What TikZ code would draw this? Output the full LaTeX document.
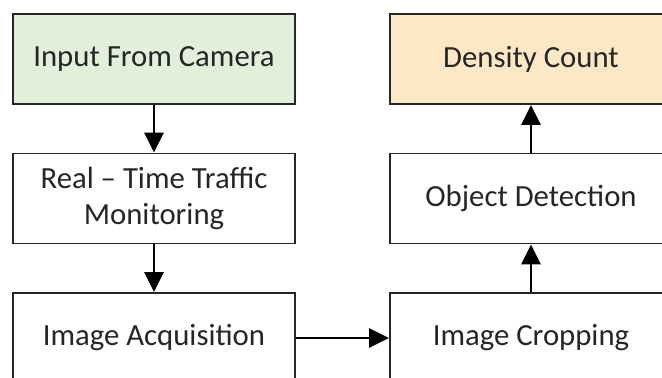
\documentclass[tikz,border=0pt]{standalone}
\usepackage{fontspec}
\setmainfont{Carlito}
\usetikzlibrary{arrows.meta,positioning}
\definecolor{camGreen}{HTML}{E2EFDA}
\definecolor{cntGold}{HTML}{FCE8C4}
\definecolor{edgeGrey}{HTML}{262626}

\begin{document}
\begin{tikzpicture}[
  x=0.02cm, y=-0.02cm,
  >={Triangle[length=0.40cm, width=0.38cm]},
  font=\fontsize{17.5pt}{21pt}\selectfont,
  stage/.style ={draw=edgeGrey, fill=white, align=center, text=edgeGrey,
                 minimum width=5.64cm, minimum height=1.80cm,
                 inner sep=2pt, line width=1.1pt},
  flow/.style  ={->, draw=black, line width=1.6pt},
]

% ---- the frame, in pixel units of the page -----------------------------------------
% two columns of three rows; the right column runs past the page edge on purpose
\useasboundingbox (0,0) rectangle (662,378);
\clip (0,0) rectangle (662,378);
\pgfmathsetmacro{\xl}{154}
\pgfmathsetmacro{\xr}{531}
\pgfmathsetmacro{\ya}{59}
\pgfmathsetmacro{\yb}{198.5}
\pgfmathsetmacro{\yc}{338}

% ============================================================ left column
\node[stage, fill=camGreen] (cam) at (\xl,\ya) {Input From Camera};
\node[stage] (rtm) at (\xl,\yb) {Real -- Time Traffic\\Monitoring};
\node[stage] (acq) at (\xl,\yc) {Image Acquisition};

% ============================================================ right column
\node[stage, fill=cntGold] (cnt) at (\xr,\ya) {Density Count};
\node[stage] (det) at (\xr,\yb) {Object Detection};
\node[stage] (crp) at (\xr,\yc) {Image Cropping};

% down the left, across, then up the right
\draw[flow] (cam) -- (rtm);
\draw[flow] (rtm) -- (acq);
\draw[flow] (acq) -- (crp);
\draw[flow] (crp) -- (det);
\draw[flow] (det) -- (cnt);

\end{tikzpicture}
\end{document}
